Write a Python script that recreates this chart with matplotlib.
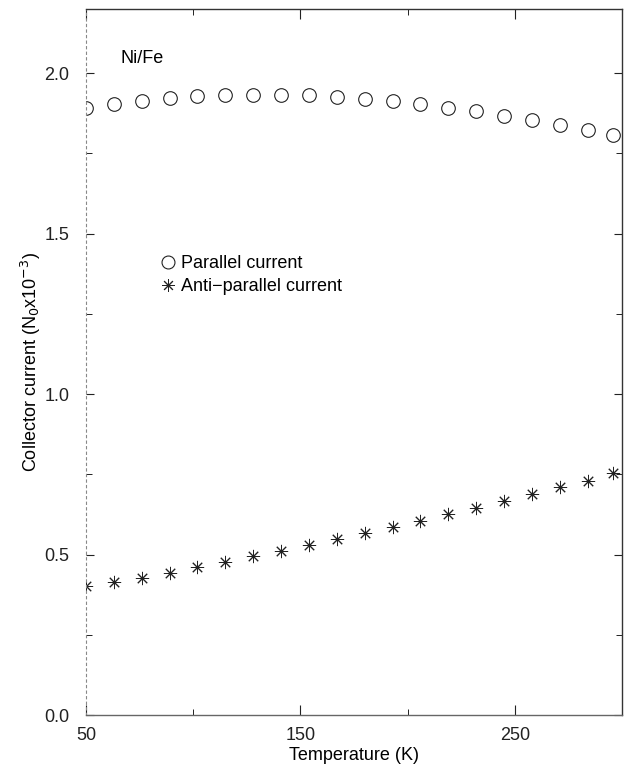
import matplotlib
matplotlib.use("Agg")
import matplotlib.pyplot as plt
from matplotlib.ticker import MultipleLocator

plt.rcParams['font.family'] = ['Liberation Sans', 'DejaVu Sans']

temperature = [50, 63, 76, 89, 102, 115, 128, 141, 154, 167,
               180, 193, 206, 219, 232, 245, 258, 271, 284, 296]
parallel = [1.890, 1.903, 1.914, 1.923, 1.928, 1.932, 1.933, 1.933, 1.931, 1.927,
            1.921, 1.912, 1.903, 1.893, 1.882, 1.867, 1.854, 1.838, 1.822, 1.807]
antiparallel = [0.403, 0.415, 0.428, 0.444, 0.462, 0.477, 0.495, 0.511, 0.530, 0.548,
                0.566, 0.586, 0.606, 0.625, 0.646, 0.667, 0.689, 0.709, 0.730, 0.753]
x_ticks = [50, 150, 250]
y_ticks = [0.0, 0.5, 1.0, 1.5, 2.0]

fig = plt.figure(figsize=(6.24, 7.68), dpi=100)
ax = fig.add_axes([86/624, 1 - 715/768, (622-86)/624, (715-9)/768])

ax.plot(temperature, parallel, linestyle='none', marker='o', markersize=9.8,
        markerfacecolor='none', markeredgecolor='#222222', markeredgewidth=0.8,
        label='Parallel current')
ax.plot(temperature, antiparallel, linestyle='none', marker=(8, 2, 0), markersize=9.5,
        color='#222222', markeredgewidth=0.7, label='Anti\u2212parallel current')

ax.set_xlim(50, 300)
ax.set_ylim(0, 2.2)
ax.set_xticks(x_ticks)
ax.set_xticklabels([str(t) for t in x_ticks])
ax.set_yticks(y_ticks)
ax.set_yticklabels([f"{v:.1f}" for v in y_ticks])
ax.xaxis.set_minor_locator(MultipleLocator(50))
ax.yaxis.set_minor_locator(MultipleLocator(0.25))

ax.tick_params(axis='both', which='both', direction='in', top=True, right=True,
               labelsize=13, colors='#222222')
ax.tick_params(axis='x', which='major', length=7, width=0.8, pad=9)
ax.tick_params(axis='y', which='major', length=6, width=0.8, pad=12)
ax.tick_params(which='minor', length=4, width=0.7)

for side in ['top', 'right']:
    ax.spines[side].set_linewidth(1.0)
    ax.spines[side].set_color('#333333')
ax.spines['bottom'].set_linewidth(1.0)
ax.spines['bottom'].set_color('#666666')
ax.spines['left'].set_linewidth(0.8)
ax.spines['left'].set_color('#888888')
ax.spines['left'].set_linestyle((0, (2, 3)))

ax.set_xlabel('Temperature (K)', fontsize=13, labelpad=2)
ax.set_ylabel('Collector current (N$_0$x10$^{-3}$)', fontsize=13, labelpad=1)

ax.text(66, 2.045, 'Ni/Fe', fontsize=13, ha='left', va='center')

leg = ax.legend(loc='center left', bbox_to_anchor=(0.125, 0.623), frameon=False,
                fontsize=13, handlelength=0.7, handletextpad=0.35,
                labelspacing=0.3, borderpad=0, markerscale=0.95)

fig.savefig('out.png', dpi=100)
